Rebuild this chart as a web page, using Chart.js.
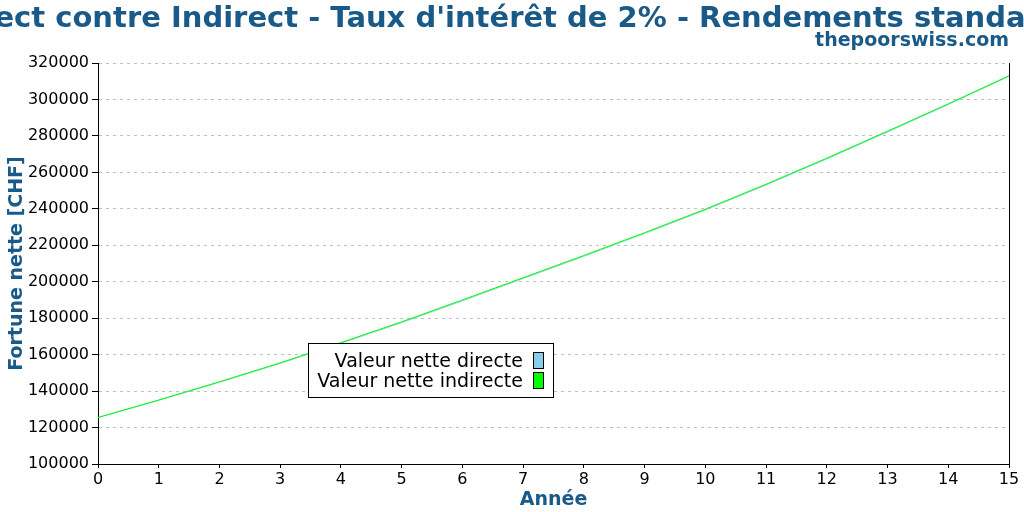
<!DOCTYPE html>
<html>
<head>
<meta charset="utf-8">
<script src="https://cdn.jsdelivr.net/npm/chart.js@4/dist/chart.umd.min.js"></script>
<style>
  html, body { margin: 0; padding: 0; background: #fff; }
  #wrap { width: 1024px; height: 512px; position: relative; }
</style>
</head>
<body>
<div id="wrap"><canvas id="chart"></canvas></div>
<script>
var years = [0, 1, 2, 3, 4, 5, 6, 7, 8, 9, 10, 11, 12, 13, 14, 15];
var directe   = [125500, 134950, 144850, 155150, 166200, 177550, 189500, 201750, 213950, 226450, 239350, 253050, 267350, 282150, 297200, 312700];
var indirecte = [125500, 135100, 145100, 155500, 166600, 178000, 190000, 202200, 214400, 226900, 239800, 253500, 267800, 282600, 297600, 313000];
var seriesNames = ["Valeur nette directe", "Valeur nette indirecte"];
var titleText = "Direct contre Indirect - Taux d'intérêt de 2% - Rendements standards";
var subtitleText = "thepoorswiss.com";
var xTitle = "Année";
var yTitle = "Fortune nette [CHF]";

var BLUE = "#1a5a89";
var FONT = "'DejaVu Sans', sans-serif";

function pts(vals) {
  return vals.map(function (v, i) { return { x: years[i], y: v }; });
}
function plain(v) { return String(v); }

// titles + gnuplot-style legend box + right frame line
var decor = {
  id: "decor",
  afterDraw: function (chart) {
    var c = chart.ctx, a = chart.chartArea;
    c.save();
    c.strokeStyle = "#000";
    c.lineWidth = 1;
    c.beginPath();
    c.moveTo(a.right + 0.5, a.top);
    c.lineTo(a.right + 0.5, a.bottom);
    c.stroke();

    c.fillStyle = BLUE;
    c.textBaseline = "alphabetic";
    c.textAlign = "center";
    c.font = "bold 29px " + FONT;
    c.fillText(titleText, 512, 27);
    c.textAlign = "right";
    c.font = "bold 19px " + FONT;
    c.fillText(subtitleText, 1009, 46);

    // legend
    c.fillStyle = "#fff";
    c.fillRect(308, 343, 245, 54);
    c.strokeRect(308.5, 343.5, 245, 54);
    c.font = "19px " + FONT;
    c.textAlign = "right";
    var ds = chart.data.datasets;
    for (var i = 0; i < ds.length; i++) {
      var y = 352 + i * 20;
      c.fillStyle = "#000";
      c.fillText(ds[i].label, 523, 367 + i * 20);
      c.fillStyle = ds[i].borderColor;
      c.fillRect(533, y, 11, 17);
      c.strokeRect(533.5, y + 0.5, 10, 16);
    }
    c.restore();
  }
};

new Chart(document.getElementById("chart"), {
  type: "line",
  data: {
    datasets: [{
      label: seriesNames[0],
      data: pts(directe),
      borderColor: "#87ceeb",
      backgroundColor: "#87ceeb",
      borderWidth: 1,
      pointRadius: 0,
      tension: 0,
      order: 1,
    }, {
      label: seriesNames[1],
      data: pts(indirecte),
      borderColor: "#00ff00",
      backgroundColor: "#00ff00",
      borderWidth: 1,
      pointRadius: 0,
      tension: 0,
      order: 0,
    }],
  },
  options: {
    responsive: true,
    maintainAspectRatio: false,
    animation: false,
    devicePixelRatio: 1,
    layout: { padding: { top: 63, right: 15, bottom: 0, left: 0 } },
    plugins: { legend: { display: false }, tooltip: { enabled: false }, title: { display: false } },
    scales: {
      x: {
        type: "linear",
        min: 0,
        max: 15,
        afterFit: function (s) { s.height = 48; },
        ticks: { stepSize: 1, color: "#000", font: { family: FONT, size: 16 }, padding: 2, maxRotation: 0, callback: plain },
        grid: { drawOnChartArea: false, tickLength: 4, tickColor: "#000" },
        border: { color: "#000", width: 1 },
        title: { display: true, text: xTitle, color: BLUE, font: { family: FONT, size: 19, weight: "bold" }, padding: { top: 0, bottom: 1 } },
      },
      y: {
        min: 100000,
        max: 320000,
        afterFit: function (s) { s.width = 98; },
        ticks: { stepSize: 20000, color: "#000", font: { family: FONT, size: 16 }, padding: 3, callback: plain },
        grid: { color: "#c0c0c0", lineWidth: 1, tickLength: 6, tickColor: "#000" },
        border: { color: "#000", width: 1, dash: [3, 4] },
        title: { display: true, text: yTitle, color: BLUE, font: { family: FONT, size: 19, weight: "bold" }, padding: { top: 6, bottom: 0 } },
      },
    },
  },
  plugins: [decor],
});
</script>
</body>
</html>
